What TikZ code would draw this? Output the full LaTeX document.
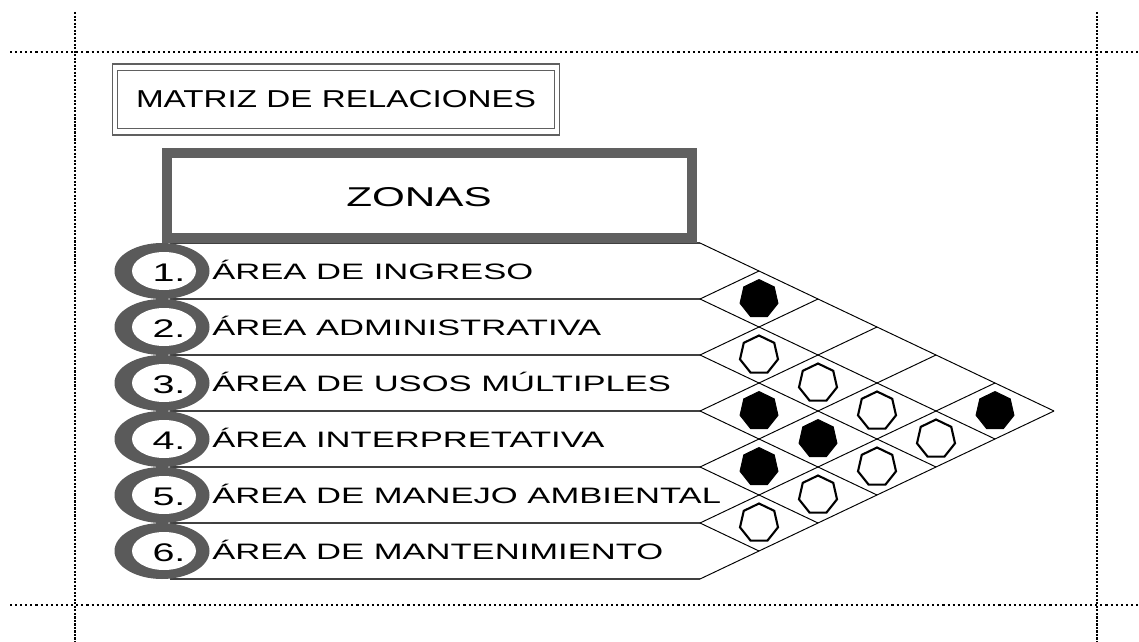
\documentclass[tikz,border=0pt]{standalone}
\usepackage{fontspec}
\setmainfont{Liberation Sans}[FakeStretch=1.55]
\newfontfamily\titlefont{Liberation Sans}[FakeStretch=1.36]
\usetikzlibrary{shapes.geometric}
\definecolor{ringgrey}{HTML}{5A5A5A}
\definecolor{framegrey}{HTML}{606060}
\tikzset{
  guideh/.style  = {line width=0.6pt, dash pattern=on 1.2pt off 1.7pt},
  guidev/.style  = {line width=1.2pt, dash pattern=on 1.2pt off 0.8pt},
  rowline/.style = {draw=black!75, line width=0.7pt},
  lattice/.style = {line width=0.55pt},
  zone/.style    = {font=\fontsize{12.7}{14}\selectfont, inner sep=0pt, anchor=base west},
  num/.style     = {font=\fontsize{14.5}{16}\selectfont, inner sep=0pt, anchor=base},
  titleframe/.style = {draw=framegrey, line width=0.6pt, minimum width=8.96cm, minimum height=1.42cm},
  titlebox/.style= {draw=framegrey, line width=0.6pt, minimum width=8.74cm, minimum height=1.16cm,
                    font=\titlefont\fontsize{13.9}{15}\selectfont},
  zonebox/.style = {draw=framegrey, line width=0.2cm, fill=white,
                    minimum width=10.5cm, minimum height=1.7cm},
  zonetext/.style= {font=\fontsize{15.5}{17}\selectfont, inner sep=0pt},
  rel/.style     = {regular polygon, regular polygon sides=7, minimum size=0.78cm,
                    inner sep=0pt, draw=black},
  full/.style    = {rel, fill=black, line width=0.5pt},
  void/.style    = {rel, fill=white, line width=1.2pt},
}

\begin{document}
\begin{tikzpicture}[x=0.02cm, y=-0.02cm]
  \useasboundingbox (0,0) rectangle (1139,642);
  % guide lines
  \draw[guidev] (75,12) -- (75,642);
  \draw[guidev] (1097,12) -- (1097,642);
  \draw[guideh] (10,52) -- (1139,52);
  \draw[guideh] (10,605) -- (1139,605);

  % rows and diagonal matrix
  \foreach \i in {0,...,6} {
    \coordinate (p\i) at (700,{243+56*\i});
    \draw[rowline] (170,{243+56*\i}) -- (p\i);
    \draw[lattice] (p\i) -- ++({(6-\i)*59},{(6-\i)*28});
    \draw[lattice] (p\i) -- ++({\i*59},{-\i*28});
  }

  % numbered rings and zone names
  \foreach \r/\txt in {1/ÁREA DE INGRESO, 2/ÁREA ADMINISTRATIVA,
                       3/ÁREA DE USOS MÚLTIPLES, 4/ÁREA INTERPRETATIVA,
                       5/ÁREA DE MANEJO AMBIENTAL, 6/ÁREA DE MANTENIMIENTO} {
    \fill[ringgrey] (162,{215+56*\r}) ellipse [x radius=47.5, y radius=28];
    \fill[white] (164,{215+56*\r}) ellipse [x radius=32, y radius=19];
    \node[num] (n\r) at (169,{225+56*\r}) {\r.};
    \node[zone] (z\r) at (212,{223+56*\r}) {\txt};
  }

  \node[titleframe] (matrizframe) at (336,99.5) {};
  \node[titlebox] (matriz) at (matrizframe) {MATRIZ DE RELACIONES};
  \node[zonebox] (zonas) at (429.5,195.5) {};
  \node[zonetext] (zonaslbl) at (419,197) {ZONAS};

  % relations
  \foreach \r/\s/\k in {1/2/full, 2/3/void, 2/4/void, 3/4/full, 2/5/void, 1/6/full,
                        3/5/full, 2/6/void, 4/5/full, 3/6/void, 4/6/void, 5/6/void}
    \node[\k] (m\r\s) at ({700+(\s-\r)*59},{215+28*(\r+\s)}) {};
\end{tikzpicture}
\end{document}
